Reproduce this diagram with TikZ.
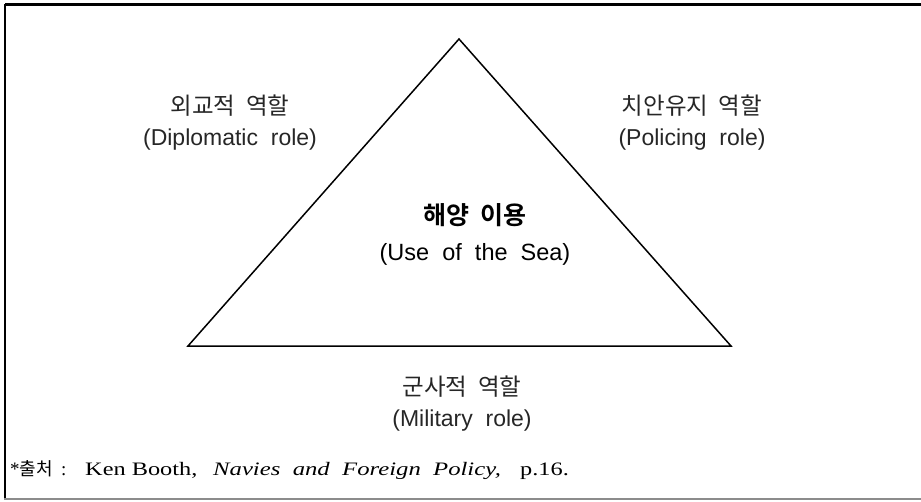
\documentclass[tikz,border=0pt]{standalone}
\usepackage{fontspec}
\setmainfont{Liberation Serif}
\setsansfont{Liberation Sans}
\newfontfamily\kr{Noto Sans CJK KR}
\newfontfamily\krb{Noto Sans CJK KR}[BoldFont={* Bold}]
\newfontfamily\srcit{Liberation Serif}[FakeStretch=1.3]
\newfontfamily\srcup{Liberation Serif}[FakeStretch=1.28]
\newcommand{\krlbl}[1]{{\fontsize{23.5}{31}\selectfont\kr #1}}
\begin{document}
\begin{tikzpicture}[x=1pt,y=-1pt,
  lbl/.style={align=center,font=\fontsize{23}{31}\selectfont\sffamily,text=black!85,inner sep=0pt},
  ctr/.style={align=center,font=\fontsize{23.5}{36}\selectfont\sffamily,inner sep=0pt},
  tri/.style={line width=1.5pt,line join=miter}]
\useasboundingbox (0,0) rectangle (921,501);
% frame
\draw[line width=2.5pt,black] (5,4.5) -- (921,4.5);
\draw[line width=2.5pt,black] (5,3.5) -- (5,499);
\draw[line width=1.2pt,black!45] (4,499) -- (921,499);
% triangle
\coordinate (apex) at (459,39);
\coordinate (bl) at (188,346);
\coordinate (br) at (731,346);
\draw[tri] (apex) -- (br) -- (bl) -- cycle;
% labels
\node[lbl] (dip) at (230,123) {\krlbl{외교적\ \ 역할}\\(Diplomatic\ \ role)};
\node[lbl] (pol) at (692,123) {\krlbl{치안유지\ \ 역할}\\(Policing\ \ role)};
\node[lbl] (mil) at (462,404) {\krlbl{군사적\ \ 역할}\\(Military\ \ role)};
\node[ctr] (use) at (475,234) {{\fontsize{25}{36}\selectfont\krb\bfseries 해양\ \ 이용}\\(Use\ \ of\ \ the\ \ Sea)};
% source
\node[anchor=west,inner sep=0pt,font=\fontsize{19}{22}\selectfont] (src) at (10,470)
  {\makebox[43pt][l]{*{\fontsize{18}{20}\selectfont\kr 출처}}%
   \makebox[32pt][l]{\hspace{8pt}:}%
   \makebox[128pt][l]{\srcup Ken\ Booth,}%
   \makebox[307pt][l]{\srcit\itshape Navies\ \ and\ \ Foreign\ \ Policy,}%
   {\srcup p.16.}};
\end{tikzpicture}
\end{document}
